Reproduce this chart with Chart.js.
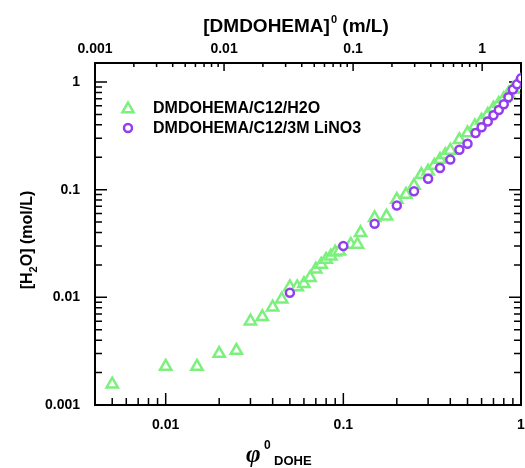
<!DOCTYPE html>
<html>
<head>
<meta charset="utf-8">
<script src="https://cdn.jsdelivr.net/npm/chart.js@4.4.1/dist/chart.umd.min.js"></script>
<style>
body { margin: 0; background: #fff; }
</style>
</head>
<body>
<canvas id="c" width="525" height="468"></canvas>
<script>
// DMDOHEMA/C12/H2O (triangles)
var h2oX = [0.005, 0.01, 0.015, 0.02, 0.025, 0.03, 0.035, 0.04, 0.045, 0.05, 0.055, 0.06, 0.065, 0.07, 0.075, 0.08, 0.085, 0.09, 0.095,
            0.11, 0.12, 0.125, 0.15, 0.175, 0.2, 0.225, 0.25, 0.275, 0.3, 0.325, 0.35, 0.375, 0.4, 0.45, 0.5,
            0.55, 0.6, 0.65, 0.7, 0.75, 0.8, 0.85, 0.9, 0.95, 1.0];
var h2oY = [0.00156, 0.00228, 0.00228, 0.0030, 0.0032, 0.0060, 0.0066, 0.0081, 0.0096, 0.0125, 0.0125, 0.0134, 0.0152, 0.0182, 0.0202, 0.0225, 0.0241, 0.0262, 0.0268,
            0.031, 0.031, 0.0397, 0.0547, 0.0566, 0.0808, 0.0899, 0.109, 0.138, 0.148, 0.168, 0.19, 0.211, 0.231, 0.29, 0.335,
            0.39, 0.44, 0.5, 0.57, 0.63, 0.70, 0.78, 0.86, 0.94, 1.02];
// DMDOHEMA/C12/3M LiNO3 (circles)
var linoX = [0.05, 0.1, 0.15, 0.2, 0.25, 0.3, 0.35, 0.4, 0.45, 0.5, 0.555, 0.6, 0.65, 0.7, 0.75, 0.8, 0.85, 0.9, 0.95, 1.0];
var linoY = [0.011, 0.0299, 0.0481, 0.0711, 0.0964, 0.126, 0.159, 0.19, 0.235, 0.267, 0.335, 0.38, 0.43, 0.49, 0.55, 0.62, 0.72, 0.85, 0.95, 1.08];

var seriesNames = ['DMDOHEMA/C12/H2O', 'DMDOHEMA/C12/3M LiNO3'];
var green = 'rgb(124, 240, 124)';
var purple = 'rgb(150, 60, 240)';

function toPoints(xs, ys) {
    var pts = [];
    for (var i = 0; i < xs.length; i++) {
        pts.push({ x: xs[i], y: ys[i] });
    }
    return pts;
}

function decadeLabel(v) {
    var l = Math.log10(v);
    if (Math.abs(l - Math.round(l)) < 1e-6) {
        return String(parseFloat(v.toPrecision(1)));
    }
    return '';
}

function logValues(min, max) {
    var out = [];
    for (var e = -4; e <= 1; e++) {
        for (var m = 1; m < 10; m++) {
            var v = m * Math.pow(10, e);
            if (v >= min * 0.999 && v <= max * 1.001) out.push({ v: v, major: m === 1 });
        }
    }
    return out;
}

// inward tick marks on all four sides + frame
var axisFrame = {
    id: 'axisFrame',
    beforeDatasetsDraw: function(chart) {
        var ctx = chart.ctx, a = chart.chartArea;
        var sx = chart.scales.x, sx2 = chart.scales.x2, sy = chart.scales.y;
        ctx.save();
        ctx.strokeStyle = '#000';
        ctx.lineWidth = 1.5;
        ctx.beginPath();
        logValues(sx.min, sx.max).forEach(function(t) {
            var p = sx.getPixelForValue(t.v), len = t.major ? 12 : 7;
            ctx.moveTo(p, a.bottom); ctx.lineTo(p, a.bottom - len);
        });
        logValues(sx2.min, sx2.max).forEach(function(t) {
            var p = sx2.getPixelForValue(t.v), len = t.major ? 8 : 4;
            ctx.moveTo(p, a.top); ctx.lineTo(p, a.top + len);
        });
        logValues(sy.min, sy.max).forEach(function(t) {
            var p = sy.getPixelForValue(t.v), len = t.major ? 12 : 7;
            ctx.moveTo(a.left, p); ctx.lineTo(a.left + len, p);
            ctx.moveTo(a.right, p); ctx.lineTo(a.right - len, p);
        });
        ctx.stroke();
        ctx.lineWidth = 2;
        ctx.strokeRect(a.left, a.top, a.right - a.left, a.bottom - a.top);
        ctx.restore();
    }
};

// axis titles with sub/superscripts, and the legend
var titlesAndLegend = {
    id: 'titlesAndLegend',
    afterDraw: function(chart) {
        var ctx = chart.ctx;
        ctx.save();
        ctx.fillStyle = '#000';
        ctx.textBaseline = 'alphabetic';

        // top title
        var big = 'bold 19px "Liberation Sans", Arial, sans-serif';
        var sup = 'bold 11px "Liberation Sans", Arial, sans-serif';
        ctx.font = big;
        var w1 = ctx.measureText('[DMDOHEMA]').width;
        var w3 = ctx.measureText(' (m/L)').width;
        ctx.font = sup;
        var w2 = ctx.measureText('0').width + 1;
        var x0 = 296 - (w1 + w2 + w3) / 2, base = 32;
        ctx.font = big; ctx.fillText('[DMDOHEMA]', x0, base);
        ctx.font = sup; ctx.fillText('0', x0 + w1 + 1, base - 9);
        ctx.font = big; ctx.fillText(' (m/L)', x0 + w1 + w2, base);

        // left title
        ctx.save();
        ctx.translate(32, 240);
        ctx.rotate(-Math.PI / 2);
        var lf = 'bold 16px "Liberation Sans", Arial, sans-serif';
        var lsub = 'bold 11px "Liberation Sans", Arial, sans-serif';
        ctx.font = lf;
        var a1 = ctx.measureText('[H').width, a3 = ctx.measureText('O] (mol/L)').width;
        ctx.font = lsub;
        var a2 = ctx.measureText('2').width;
        var lx = -(a1 + a2 + a3) / 2;
        ctx.font = lf; ctx.fillText('[H', lx, 0);
        ctx.font = lsub; ctx.fillText('2', lx + a1, 5);
        ctx.font = lf; ctx.fillText('O] (mol/L)', lx + a1 + a2, 0);
        ctx.restore();

        // bottom title
        ctx.font = 'italic bold 25px "Liberation Serif", serif';
        ctx.fillText('\u03C6', 246, 462);
        ctx.font = 'bold 12px "Liberation Sans", Arial, sans-serif';
        ctx.fillText('0', 264, 449);
        ctx.font = 'bold 13px "Liberation Sans", Arial, sans-serif';
        ctx.fillText('DOHE', 274, 465);

        // legend
        var rows = [
            { name: seriesNames[0], style: 'triangle', color: green, r: 6.5, y: 108 },
            { name: seriesNames[1], style: 'circle', color: purple, r: 4, y: 128 }
        ];
        ctx.textBaseline = 'middle';
        ctx.font = 'bold 16px "Liberation Sans", Arial, sans-serif';
        rows.forEach(function(row) {
            ctx.save();
            ctx.strokeStyle = row.color;
            ctx.fillStyle = '#fff';
            ctx.lineWidth = 2.5;
            Chart.helpers.drawPoint(ctx, { pointStyle: row.style, radius: row.r, borderWidth: 2.5, rotation: 0 }, 128, row.y + (row.style === 'triangle' ? 1 : 0));
            ctx.restore();
            ctx.fillText(row.name, 153, row.y + 1);
        });
        ctx.restore();
    }
};

var tickFont = { family: '"Liberation Sans", Arial, sans-serif', size: 14, weight: 'bold' };

function noSidePad(s) {
    s.paddingLeft = 0;
    s.paddingRight = 0;
}

new Chart(document.getElementById('c').getContext('2d'), {
    type: 'scatter',
    data: {
        datasets: [{
            label: seriesNames[0],
            data: toPoints(h2oX, h2oY),
            pointStyle: 'triangle',
            pointRadius: 6.5,
            pointHoverRadius: 6.5,
            borderColor: green,
            backgroundColor: '#fff',
            pointBorderWidth: 2.5,
            order: 1
        }, {
            label: seriesNames[1],
            data: toPoints(linoX, linoY),
            pointStyle: 'circle',
            pointRadius: 4,
            pointHoverRadius: 4,
            borderColor: purple,
            backgroundColor: '#fff',
            pointBorderWidth: 2.5,
            order: 0
        }]
    },
    options: {
        responsive: false,
        animation: false,
        layout: { autoPadding: false, padding: { left: 0, top: 0, bottom: 0, right: 4 } },
        plugins: { legend: { display: false }, tooltip: { enabled: false } },
        scales: {
            x: {
                type: 'logarithmic', position: 'bottom', min: 0.004, max: 1,
                grid: { display: false, drawTicks: false },
                border: { display: false },
                ticks: { font: tickFont, color: '#000', padding: 12, autoSkip: false, maxRotation: 0, callback: decadeLabel },
                afterFit: function(s) { s.height = 63; noSidePad(s); }
            },
            x2: {
                type: 'logarithmic', position: 'top', min: 0.001, max: 2,
                grid: { display: false, drawTicks: false },
                border: { display: false },
                ticks: { font: tickFont, color: '#000', padding: 5, autoSkip: false, maxRotation: 0, callback: decadeLabel },
                afterFit: function(s) { s.height = 63; noSidePad(s); }
            },
            y: {
                type: 'logarithmic', position: 'left', min: 0.001, max: 1.5,
                grid: { display: false, drawTicks: false },
                border: { display: false },
                ticks: { font: tickFont, color: '#000', padding: 15, autoSkip: false, callback: decadeLabel },
                afterFit: function(s) { s.width = 95; s.paddingTop = 0; s.paddingBottom = 0; }
            }
        }
    },
    plugins: [axisFrame, titlesAndLegend]
});
</script>
</body>
</html>
